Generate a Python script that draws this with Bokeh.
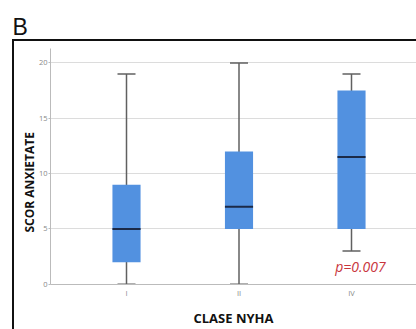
from bokeh.plotting import figure
from bokeh.models import FixedTicker, Label, Title, InlineStyleSheet
from bokeh.embed import file_html
from bokeh.resources import INLINE

categories = ["I", "II", "IV"]
q_low = [2, 5, 5]
q_high = [9, 12, 17.5]
medians = [5, 7, 11.5]
whisk_low = [0, 0, 3]
whisk_high = [19, 20, 19]
y_ticks = [0, 5, 10, 15, 20]

xs = [1, 2, 3]
PX = 112.5  # px per x unit
x0 = 1 - 76 / PX
x1 = x0 + 366 / PX

frame_css = InlineStyleSheet(css="""
:host::after {
  content: "";
  position: absolute;
  left: 12px; top: 39px; width: 500px; height: 400px;
  border-top: 2px solid #111; border-left: 2px solid #111;
  pointer-events: none; z-index: 5;
}
""")

p = figure(width=416, height=329, output_backend="svg", toolbar_location=None,
           x_range=(x0, x1), y_range=(-0.02, 21.3),
           min_border_left=50, min_border_right=0, min_border_top=48, min_border_bottom=43,
           stylesheets=[frame_css])
p.outline_line_color = None
p.background_fill_color = "white"
p.border_fill_color = "white"

title = Title(text="B", align="left", text_font="Liberation Sans", text_font_size="23px",
              text_font_style="normal", text_color="#111111", offset=-38, standoff=17,
              vertical_align="bottom")
p.add_layout(title, "above")

bw = 0.25
cw = 0.16
wc = "#606060"
p.segment(xs, whisk_low, xs, whisk_high, line_color=wc, line_width=1.5)
p.segment([x - cw / 2 for x in xs], whisk_low, [x + cw / 2 for x in xs], whisk_low, line_color=wc, line_width=1.5)
p.segment([x - cw / 2 for x in xs], whisk_high, [x + cw / 2 for x in xs], whisk_high, line_color=wc, line_width=1.5)
p.vbar(x=xs, width=bw, bottom=q_low, top=q_high, fill_color="#5291E0", line_color=None)
p.segment([x - bw / 2 for x in xs], medians, [x + bw / 2 for x in xs], medians, line_color="#1B2A48", line_width=2)

p.xgrid.grid_line_color = None
p.ygrid.grid_line_color = "#dcdcdc"
p.ygrid.grid_line_width = 1

p.xaxis.ticker = FixedTicker(ticks=xs)
p.xaxis.major_label_overrides = {x: c for x, c in zip(xs, categories)}
p.yaxis.ticker = FixedTicker(ticks=y_ticks)

for ax in (p.xaxis[0], p.yaxis[0]):
    ax.axis_line_color = "#bbbbbb"
    ax.major_label_text_color = "#888888"
    ax.major_label_text_font = "Open Sans"
    ax.major_label_text_font_size = "7.5px"
    ax.minor_tick_line_color = None
    ax.major_tick_line_color = "#bbbbbb"
    ax.axis_label_text_font = "Open Sans"
    ax.axis_label_text_font_style = "bold"
    ax.axis_label_text_color = "#111111"

p.xaxis.axis_label_text_font_size = "13px"
p.xaxis.axis_label_text_line_height = 1.0
p.xaxis.major_label_text_line_height = 1.0
p.xaxis.major_tick_out = 0
p.xaxis.major_tick_in = 0
p.yaxis.major_tick_out = 2
p.yaxis.major_tick_in = 0
p.xaxis.major_label_standoff = 3
p.yaxis.major_label_standoff = 1
p.xaxis.axis_label = "CLASE NYHA"
p.xaxis.axis_label_standoff = 8

ytitle = Title(text="SCOR ANXIETATE", align="left", text_font="Open Sans", text_font_style="bold",
               text_font_size="12px", text_color="#111111", offset=52, standoff=-4)
p.add_layout(ytitle, "left")

p.add_layout(Label(x=x0 + (360 - 50) / PX, y=(286 - 268) / 11.17, text="p=0.007",
                   text_color="#C8353C", text_font="Open Sans", text_font_style="italic",
                   text_font_size="14px", text_align="center", text_baseline="middle"))

open("out.html", "w").write(file_html(p, INLINE))
